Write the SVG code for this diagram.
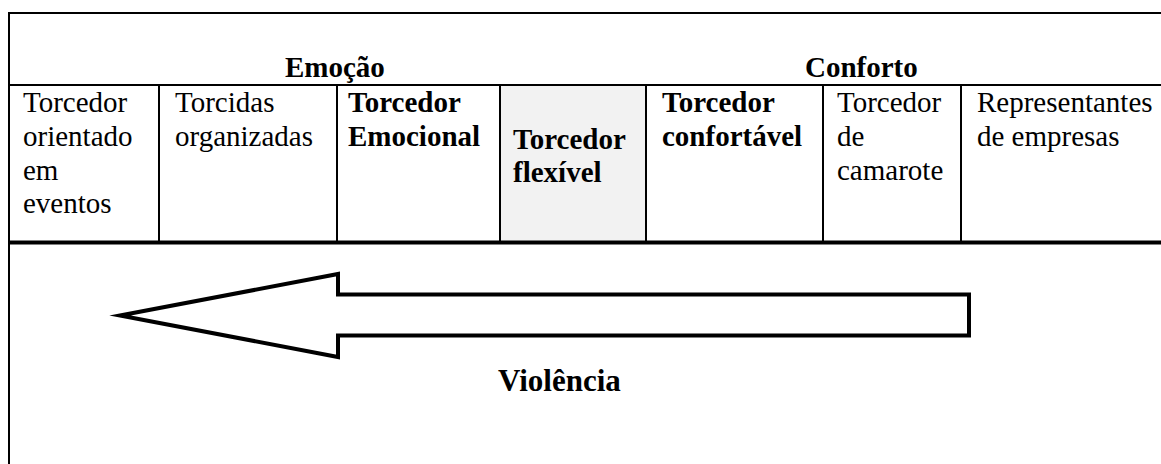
<svg xmlns="http://www.w3.org/2000/svg" width="1161" height="464" viewBox="0 0 1161 464">
<style>
.t{font-family:"Liberation Serif","Times New Roman",serif;font-size:29px;fill:#000}
.b{font-weight:bold}
.ln{stroke:#000;stroke-width:2;fill:none}
</style>
<rect width="1161" height="464" fill="#fff"/>
<g id="grid">
<rect x="500" y="85" width="146" height="157" fill="#f2f2f2"/>
<line class="ln" x1="8" y1="13" x2="1161" y2="13"/>
<line class="ln" x1="9" y1="12" x2="9" y2="464"/>
<line class="ln" x1="9" y1="85" x2="1161" y2="85"/>
<line class="ln" x1="159" y1="85" x2="159" y2="242"/>
<line class="ln" x1="337" y1="85" x2="337" y2="242"/>
<line class="ln" x1="500" y1="85" x2="500" y2="242"/>
<line class="ln" x1="646" y1="85" x2="646" y2="242"/>
<line class="ln" x1="823" y1="85" x2="823" y2="242"/>
<line class="ln" x1="961" y1="85" x2="961" y2="242"/>
<line x1="9" y1="242.5" x2="1161" y2="242.5" stroke="#000" stroke-width="4"/>
</g>
<g id="header">
<text class="t b" x="285" y="77">Emoção</text>
<text class="t b" x="805" y="77">Conforto</text>
</g>
<g id="c1"><text class="t" x="23" y="112">Torcedor<tspan x="23" y="146">orientado</tspan><tspan x="23" y="180">em</tspan><tspan x="23" y="213">eventos</tspan></text></g>
<g id="c2"><text class="t" x="175" y="112">Torcidas<tspan x="175" y="146">organizadas</tspan></text></g>
<g id="c3"><text class="t b" x="348" y="112">Torcedor<tspan x="348" y="146">Emocional</tspan></text></g>
<g id="c4"><text class="t b" x="513" y="149">Torcedor<tspan x="513" y="182">flexível</tspan></text></g>
<g id="c5"><text class="t b" x="662" y="112">Torcedor<tspan x="662" y="146">confortável</tspan></text></g>
<g id="c6"><text class="t" x="837" y="112">Torcedor<tspan x="837" y="146">de</tspan><tspan x="837" y="180">camarote</tspan></text></g>
<g id="c7"><text class="t" x="977" y="112">Representantes<tspan x="977" y="146">de empresas</tspan></text></g>
<g id="connectors">
<polygon points="120,315.5 338,274 338,294.5 969,294.5 969,335.5 338,335.5 338,357" fill="#fff" stroke="#000" stroke-width="4" stroke-linejoin="miter" stroke-miterlimit="20"/>
</g>
<g id="label"><text class="t b" x="498" y="391" style="font-size:31px">Violência</text></g>
</svg>
